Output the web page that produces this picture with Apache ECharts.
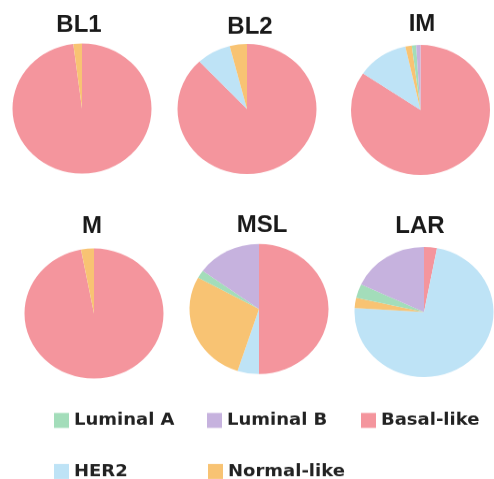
<!DOCTYPE html>
<html>
<head>
<meta charset="utf-8">
<script src="https://cdn.jsdelivr.net/npm/echarts@6/dist/echarts.min.js"></script>
<style>
html,body{margin:0;padding:0;background:#fff;overflow:hidden;}
#wrap{width:494px;height:479px;position:relative;overflow:hidden;}
#chart{width:494px;height:512px;position:absolute;left:0;top:0;transform:scaleY(0.93555);transform-origin:0 0;}
</style>
</head>
<body>
<div id="wrap"><div id="chart"></div></div>
<script>
// Subtypes in drawing order (clockwise from 12 o'clock)
const subtypes = ['Basal-like', 'HER2', 'Normal-like', 'Luminal A', 'Luminal B'];
const subtypeColors = ['#F4959D', '#BEE3F6', '#F8C373', '#A3DDBA', '#C6B2DE'];

// Panel names
const panels = ['BL1', 'BL2', 'IM', 'M', 'MSL', 'LAR'];

// Percentages per panel, in subtype order
const BL1 = [98, 0, 2, 0, 0];
const BL2 = [88, 8, 4, 0, 0];
const IM  = [84.5, 12, 1.5, 1, 1];
const M   = [97, 0, 3, 0, 0];
const MSL = [50, 5, 28, 2, 15];
const LAR = [3, 73, 2.5, 3.5, 18];
const panelValues = [BL1, BL2, IM, M, MSL, LAR];

// Legend layout rows
const legendRow1 = ['Luminal A', 'Luminal B', 'Basal-like'];
const legendRow2 = ['HER2', 'Normal-like'];

// Layout: the chart is drawn taller and squashed vertically so the pies become ellipses
const SY = 0.93555;
const centersPx = [[82, 108.5], [247, 109], [420.5, 110], [94, 313.5], [259, 309], [424, 312]];
const titlePx = [[79, 25], [250, 27], [422, 24], [92, 226], [262, 225], [420, 226]];
const radius = 69.5;

const chart = echarts.init(document.getElementById('chart'), null, {renderer: 'canvas'});

const series = panels.map((p, i) => ({
  type: 'pie',
  name: p,
  center: [centersPx[i][0], centersPx[i][1] / SY],
  radius: radius,
  startAngle: 90,
  clockwise: true,
  avoidLabelOverlap: false,
  label: {show: false},
  labelLine: {show: false},
  emphasis: {disabled: true},
  silent: true,
  animation: false,
  itemStyle: {borderWidth: 0},
  data: subtypes.map((s, k) => ({
    name: s,
    value: panelValues[i][k],
    itemStyle: {color: subtypeColors[k]}
  }))
}));

const legendLeft1 = [54, 207, 361];
const legendLeft2 = [54, 208];
const legendBase = {
  orient: 'horizontal',
  padding: 0,
  itemWidth: 15,
  itemHeight: 16,
  icon: 'rect',
  selectedMode: false,
  textStyle: {fontFamily: 'DejaVu Sans', fontWeight: 'bold', fontSize: 18, color: '#222'}
};
const legends = [];
legendRow1.forEach((n, j) => legends.push(Object.assign({}, legendBase, {data: [n], left: legendLeft1[j], top: 412 / SY})));
legendRow2.forEach((n, j) => legends.push(Object.assign({}, legendBase, {data: [n], left: legendLeft2[j], top: 463 / SY})));

const graphics = panels.map((p, i) => ({
  type: 'text',
  x: titlePx[i][0],
  y: titlePx[i][1] / SY,
  scaleY: 1 / SY,
  style: {
    text: p,
    fill: '#1a1a1a',
    font: 'bold 24px "Liberation Sans", Arial, sans-serif',
    align: 'center',
    verticalAlign: 'middle'
  }
}));

chart.setOption({
  animation: false,
  backgroundColor: '#fff',
  legend: legends,
  graphic: graphics,
  series: series
});
</script>
</body>
</html>
